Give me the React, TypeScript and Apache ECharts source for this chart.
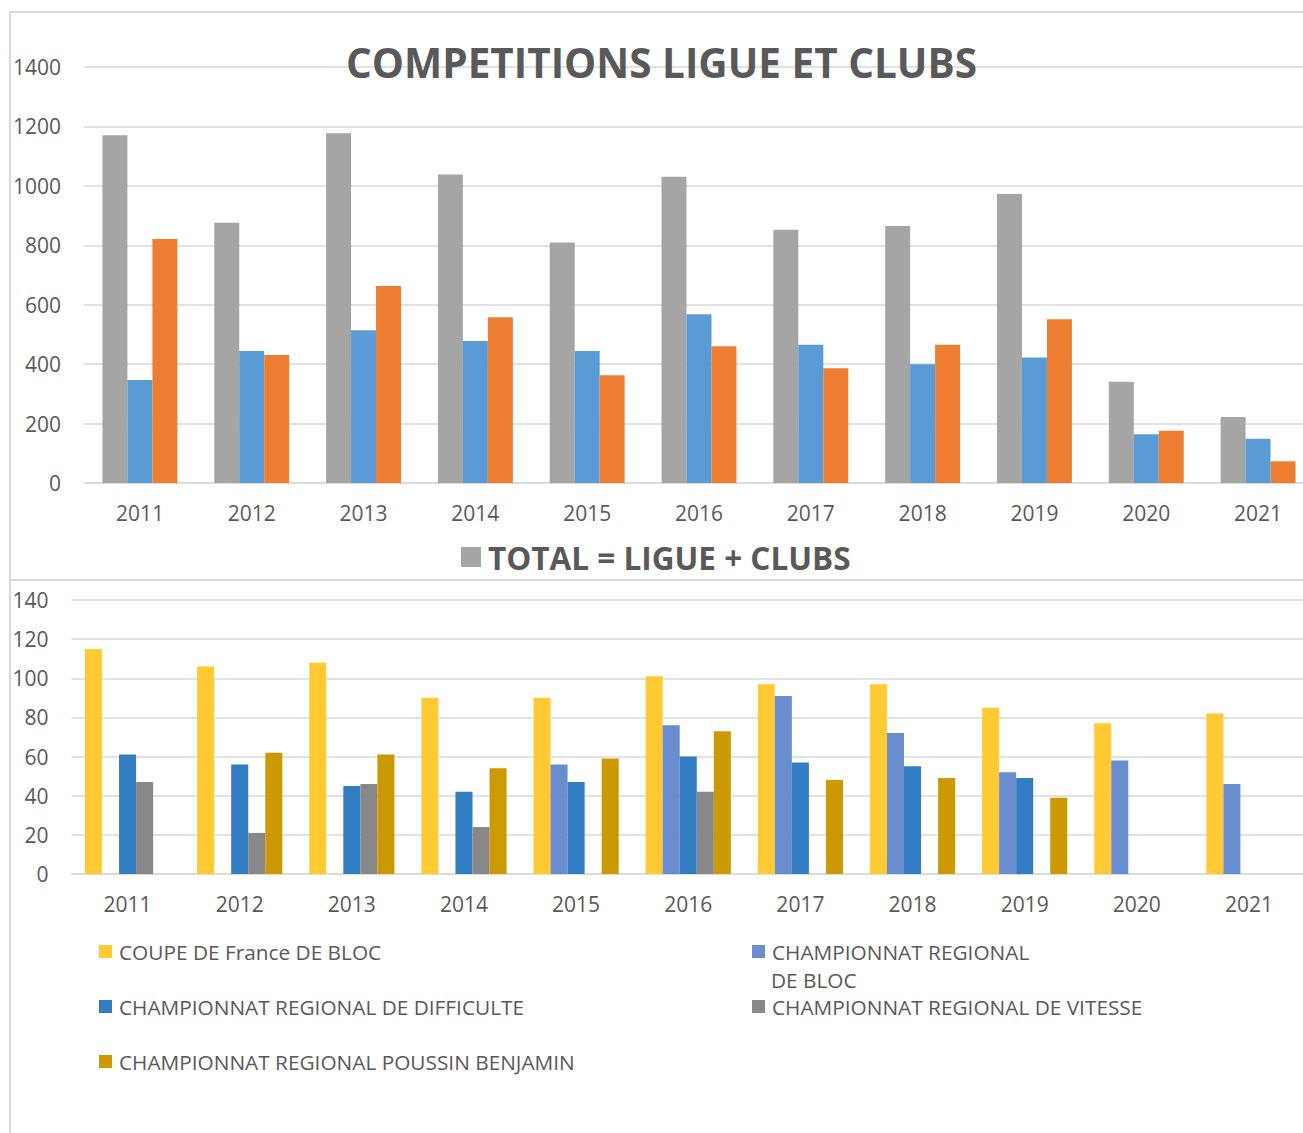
import React, { useEffect, useRef } from "react";
import * as echarts from "echarts";

const years = ["2011", "2012", "2013", "2014", "2015", "2016", "2017", "2018", "2019", "2020", "2021"];

// Top chart
const totalLigueClubs = [1170, 876, 1177, 1038, 809, 1031, 852, 865, 973, 341, 222];
const ligue = [347, 444, 514, 478, 444, 568, 465, 400, 422, 164, 149];
const clubs = [821, 431, 663, 558, 363, 460, 386, 465, 551, 176, 73];
const topTicks = { min: 0, max: 1400, interval: 200 };

// Bottom chart
const coupeFranceBloc = [115, 106, 108, 90, 90, 101, 97, 97, 85, 77, 82];
const crBloc = [null, null, null, null, 56, 76, 91, 72, 52, 58, 46];
const crDifficulte = [61, 56, 45, 42, 47, 60, 57, 55, 49, null, null];
const crVitesse = [47, 21, 46, 24, null, 42, null, null, null, null, null];
const crPoussinBenjamin = [null, 62, 61, 54, 59, 73, 48, 49, 39, null, null];
const bottomTicks = { min: 0, max: 140, interval: 20 };

const NAME_TOTAL = "TOTAL = LIGUE + CLUBS";
const NAME_LIGUE = "LIGUE";
const NAME_CLUBS = "CLUBS";
const NAME_COUPE = "COUPE DE France DE BLOC";
const NAME_CRB = "CHAMPIONNAT REGIONAL DE BLOC";
const NAME_CRD = "CHAMPIONNAT REGIONAL DE DIFFICULTE";
const NAME_CRV = "CHAMPIONNAT REGIONAL DE VITESSE";
const NAME_CRP = "CHAMPIONNAT REGIONAL POUSSIN BENJAMIN";

const FONT = "'Open Sans', 'Noto Sans', sans-serif";
const TXT = "#595959";
const GRID_LINE = "#d9d9d9";

export default function App() {
  const ref = useRef<HTMLDivElement>(null);

  useEffect(() => {
    if (!ref.current) return;
    const chart = echarts.init(ref.current, null, { renderer: "svg" });

    const axisLabel = { fontSize: 21, color: TXT, fontFamily: FONT };
    const smallLegend = (name: string, left: number, top: number, label?: string) => ({
      data: [name],
      left,
      top,
      padding: 0,
      itemWidth: 13,
      itemHeight: 13,
      icon: "rect",
      formatter: () => label ?? name,
      textStyle: { fontSize: 20.8, color: TXT, fontFamily: FONT, padding: [0, 0, 0, 2] },
    });

    chart.setOption({
      animation: false,
      backgroundColor: "#ffffff",
      textStyle: { fontFamily: FONT },
      title: {
        text: "COMPETITIONS LIGUE ET CLUBS",
        left: 346,
        top: 42,
        padding: 0,
        textStyle: { fontSize: 40.5, fontWeight: "bold", color: TXT, fontFamily: FONT },
      },
      legend: [
        {
          data: [NAME_TOTAL],
          left: 461,
          top: 541,
          padding: 0,
          itemWidth: 20,
          itemHeight: 20,
          icon: "rect",
          textStyle: { fontSize: 31.5, fontWeight: "bold", color: TXT, fontFamily: FONT, padding: [0, 0, 0, 2] },
        },
        smallLegend(NAME_COUPE, 99, 941),
        smallLegend(NAME_CRB, 752, 941, "CHAMPIONNAT REGIONAL"),
        smallLegend(NAME_CRD, 99, 996),
        smallLegend(NAME_CRV, 752, 996),
        smallLegend(NAME_CRP, 99, 1051),
      ],
      graphic: [
        { type: "line", shape: { x1: 10, y1: 12, x2: 1303, y2: 12 }, style: { stroke: GRID_LINE, lineWidth: 2 } },
        { type: "line", shape: { x1: 10, y1: 12, x2: 10, y2: 1133 }, style: { stroke: GRID_LINE, lineWidth: 2 } },
        { type: "line", shape: { x1: 10, y1: 580, x2: 1303, y2: 580 }, style: { stroke: GRID_LINE, lineWidth: 2 } },
        {
          type: "text",
          left: 771,
          top: 969,
          style: { text: "DE BLOC", fontSize: 20.8, fill: TXT, fontFamily: FONT },
        },
      ],
      grid: [
        { left: 84, right: -11, top: 67, height: 416, outerBoundsMode: "none", containLabel: false },
        { left: 71.5, right: -2, top: 600, height: 274, outerBoundsMode: "none", containLabel: false },
      ],
      xAxis: [
        {
          type: "category",
          gridIndex: 0,
          data: years,
          axisTick: { show: false },
          axisLine: { lineStyle: { color: GRID_LINE, width: 1.5 } },
          axisLabel: { ...axisLabel, margin: 19 },
        },
        {
          type: "category",
          gridIndex: 1,
          data: years,
          axisTick: { show: false },
          axisLine: { lineStyle: { color: GRID_LINE, width: 1.5 } },
          axisLabel: { ...axisLabel, margin: 19 },
        },
      ],
      yAxis: [
        {
          type: "value",
          gridIndex: 0,
          ...topTicks,
          axisLine: { show: false },
          axisTick: { show: false },
          splitLine: { lineStyle: { color: GRID_LINE, width: 1.5 } },
          axisLabel: { ...axisLabel, margin: 23, formatter: (v: number) => String(v) },
        },
        {
          type: "value",
          gridIndex: 1,
          ...bottomTicks,
          axisLine: { show: false },
          axisTick: { show: false },
          splitLine: { lineStyle: { color: GRID_LINE, width: 1.5 } },
          axisLabel: { ...axisLabel, margin: 23, formatter: (v: number) => String(v) },
        },
      ],
      series: [
        { name: NAME_TOTAL, type: "bar", xAxisIndex: 0, yAxisIndex: 0, data: totalLigueClubs, itemStyle: { color: "#a5a5a5" }, barGap: "0%", barCategoryGap: "33%" },
        { name: NAME_LIGUE, type: "bar", xAxisIndex: 0, yAxisIndex: 0, data: ligue, itemStyle: { color: "#5b9bd5" }, barGap: "0%", barCategoryGap: "33%" },
        { name: NAME_CLUBS, type: "bar", xAxisIndex: 0, yAxisIndex: 0, data: clubs, itemStyle: { color: "#ed7d31" }, barGap: "0%", barCategoryGap: "33%" },
        { name: NAME_COUPE, type: "bar", xAxisIndex: 1, yAxisIndex: 1, data: coupeFranceBloc, itemStyle: { color: "#ffca33" }, barGap: "0%", barCategoryGap: "24%" },
        { name: NAME_CRB, type: "bar", xAxisIndex: 1, yAxisIndex: 1, data: crBloc, itemStyle: { color: "#698ed0" }, barGap: "0%", barCategoryGap: "24%" },
        { name: NAME_CRD, type: "bar", xAxisIndex: 1, yAxisIndex: 1, data: crDifficulte, itemStyle: { color: "#327dc2" }, barGap: "0%", barCategoryGap: "24%" },
        { name: NAME_CRV, type: "bar", xAxisIndex: 1, yAxisIndex: 1, data: crVitesse, itemStyle: { color: "#888888" }, barGap: "0%", barCategoryGap: "24%" },
        { name: NAME_CRP, type: "bar", xAxisIndex: 1, yAxisIndex: 1, data: crPoussinBenjamin, itemStyle: { color: "#cc9a00" }, barGap: "0%", barCategoryGap: "24%" },
      ],
    });

    return () => chart.dispose();
  }, []);

  return (
    <div
      ref={ref}
      style={{ position: "absolute", left: 0, top: 0, width: 1303, height: 1133, background: "#fff" }}
    />
  );
}
